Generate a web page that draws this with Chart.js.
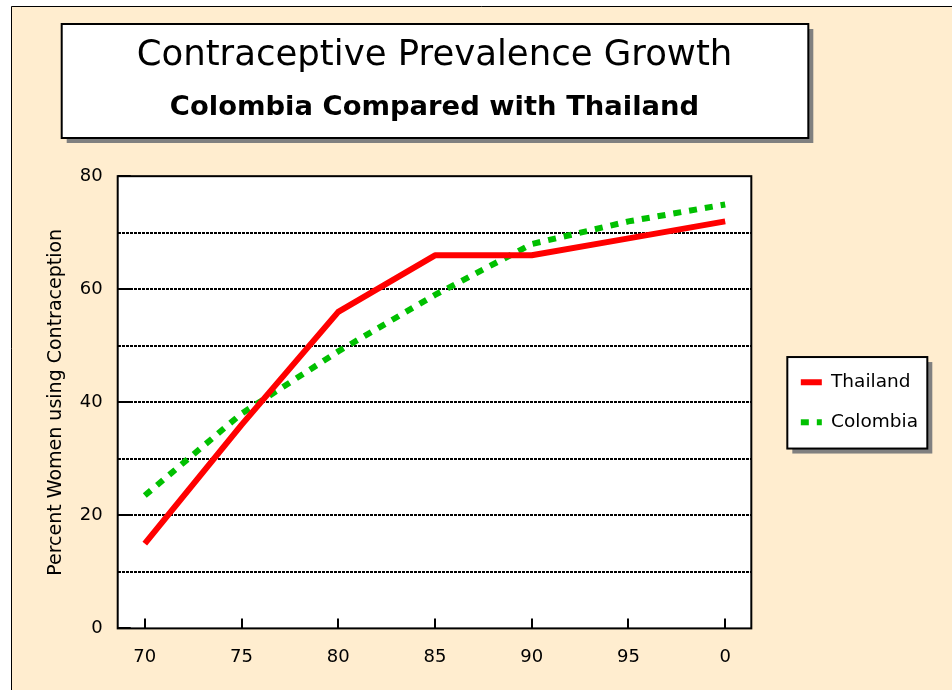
<!DOCTYPE html>
<html>
<head>
<meta charset="utf-8">
<title>Contraceptive Prevalence Growth</title>
<script src="https://cdn.jsdelivr.net/npm/chart.js@4.4.1/dist/chart.umd.min.js"></script>
<style>
  html, body { margin: 0; padding: 0; background: #fff; }
  #wrap { position: relative; width: 952px; height: 690px; }
</style>
</head>
<body>
<div id="wrap"><canvas id="prevalenceChart"></canvas></div>
<script>
// survey years (1970 = 70, 2000 = 100) and prevalence in percent
const years = [70, 75, 80, 85, 90, 95, 100];
const thailand = [15, 36, 56, 66, 66, 69, 72];
const colombia = [23.5, 38, 49, 59, 68, 72, 75];

const xTickYears = [70, 75, 80, 85, 90, 95, 100];
const xTickLabels = ['70', '75', '80', '85', '90', '95', '0'];
const yTickLabels = [0, 20, 40, 60, 80];

const FONT = "'DejaVu Sans', sans-serif";
const PAPER = '#ffedcf';
const SHADOW = '#808080';

Chart.defaults.font.family = FONT;

function toPoints(values) {
  return years.map((yr, i) => ({ x: yr, y: values[i] }));
}

function boxWithShadow(ctx, x, y, w, h) {
  ctx.fillStyle = SHADOW;
  ctx.fillRect(x + 5, y + 5, w, h);
  ctx.fillStyle = '#fff';
  ctx.fillRect(x, y, w, h);
  ctx.strokeStyle = '#000';
  ctx.lineWidth = 2;
  ctx.strokeRect(x, y, w, h);
}

// paper, title panel, legend panel, plot frame and inward tick marks
const frames = {
  id: 'frames',
  beforeDraw(chart) {
    const { ctx, chartArea: ca, legend } = chart;
    ctx.save();
    ctx.fillStyle = PAPER;
    ctx.fillRect(11, 6, chart.width - 11, chart.height - 6);
    ctx.strokeStyle = '#000';
    ctx.lineWidth = 1;
    ctx.beginPath();
    ctx.moveTo(11.5, chart.height);
    ctx.lineTo(11.5, 6.5);
    ctx.lineTo(chart.width, 6.5);
    ctx.stroke();

    boxWithShadow(ctx, ca.left - 56, 24, ca.right - ca.left + 113, 114);

    const hb = legend.legendHitBoxes;
    const last = hb[hb.length - 1];
    const top = hb[0].top - 16;
    const bottom = last.top + last.height + 17;
    boxWithShadow(ctx, legend.left + 8, top, 140, bottom - top);

    ctx.fillStyle = '#fff';
    ctx.fillRect(ca.left, ca.top, ca.right - ca.left, ca.bottom - ca.top);
    ctx.restore();
  },
  afterDraw(chart) {
    const { ctx, chartArea: ca, scales } = chart;
    ctx.save();
    ctx.strokeStyle = '#000';
    ctx.lineWidth = 2;
    ctx.beginPath();
    yTickLabels.forEach(v => {
      const py = Math.round(scales.y.getPixelForValue(v));
      ctx.moveTo(ca.left, py);
      ctx.lineTo(ca.left + 13, py);
    });
    xTickYears.forEach(v => {
      const px = Math.round(scales.x.getPixelForValue(v));
      ctx.moveTo(px, ca.bottom);
      ctx.lineTo(px, ca.bottom - 10);
    });
    ctx.stroke();
    ctx.strokeRect(ca.left, ca.top, ca.right - ca.left, ca.bottom - ca.top);
    ctx.restore();
  }
};

new Chart(document.getElementById('prevalenceChart'), {
  type: 'line',
  data: {
    datasets: [
      {
        label: 'Thailand',
        data: toPoints(thailand),
        borderColor: '#ff0000',
        backgroundColor: '#ff0000',
        borderWidth: 6,
        borderJoinStyle: 'round',
        borderCapStyle: 'butt',
        pointRadius: 0,
        tension: 0
      },
      {
        label: 'Colombia',
        data: toPoints(colombia),
        borderColor: '#00c000',
        backgroundColor: '#00c000',
        borderWidth: 6,
        borderDash: [8, 8],
        borderCapStyle: 'butt',
        pointRadius: 0,
        tension: 0
      }
    ]
  },
  options: {
    responsive: true,
    maintainAspectRatio: false,
    animation: false,
    events: [],
    layout: { padding: { left: 11, top: 0, right: 24, bottom: 22 } },
    scales: {
      x: {
        type: 'linear',
        min: 68.6,
        max: 101.35,
        afterBuildTicks: (scale) => {
          scale.ticks = xTickYears.map(v => ({ value: v }));
        },
        // fit() reserves the tick padding twice; keep only one
        afterFit: (s) => { s.height -= s.options.ticks.padding; },
        grid: { drawOnChartArea: false, drawTicks: false },
        border: { display: false },
        ticks: {
          padding: 18,
          color: '#000',
          font: { size: 18 },
          maxRotation: 0,
          autoSkip: false,
          callback: (v) => xTickLabels[xTickYears.indexOf(v)]
        }
      },
      y: {
        min: 0,
        max: 80,
        afterFit: (s) => { s.width -= s.options.ticks.padding; },
        ticks: {
          stepSize: 10,
          padding: 15,
          color: '#000',
          font: { size: 18 },
          callback: (v) => yTickLabels.includes(Math.round(v)) ? String(v) : ''
        },
        grid: {
          color: (c) => (c.tick.value > 0 && c.tick.value < 80) ? '#000' : 'rgba(0,0,0,0)',
          lineWidth: 2,
          drawTicks: false
        },
        border: { display: false, dash: [3, 1] },
        title: {
          display: true,
          text: 'Percent Women using Contraception',
          color: '#000',
          font: { size: 19 },
          padding: { top: 34, bottom: 12 }
        }
      },
      // empty right axis keeps the gap between plot and legend
      y2: {
        position: 'right',
        grid: { drawOnChartArea: false, drawTicks: false },
        border: { display: false },
        ticks: { display: false },
        afterFit: (s) => { s.width = 28; }
      }
    },
    plugins: {
      title: {
        display: true,
        text: 'Contraceptive Prevalence Growth',
        color: '#000',
        fullSize: false,
        font: { size: 35.5, weight: 'normal', lineHeight: 1.2 },
        padding: { top: 34, bottom: 15 }
      },
      subtitle: {
        display: true,
        text: 'Colombia Compared with Thailand',
        color: '#000',
        fullSize: false,
        font: { size: 27.4, weight: 'bold', lineHeight: 1.2 },
        padding: { top: 0, bottom: 51.7 }
      },
      legend: {
        position: 'right',
        fullSize: false,
        labels: {
          color: '#000',
          font: { size: 18.5 },
          usePointStyle: true,
          pointStyleWidth: 21,
          padding: 21.5,
          generateLabels: (chart) => chart.data.datasets.map((ds, i) => ({
            text: ds.label,
            fillStyle: ds.borderColor,
            strokeStyle: ds.borderColor,
            lineWidth: ds.borderWidth,
            lineDash: ds.borderDash || [],
            lineCap: 'butt',
            pointStyle: 'line',
            datasetIndex: i,
            hidden: false
          }))
        }
      },
      tooltip: { enabled: false }
    }
  },
  plugins: [frames]
});
</script>
</body>
</html>
